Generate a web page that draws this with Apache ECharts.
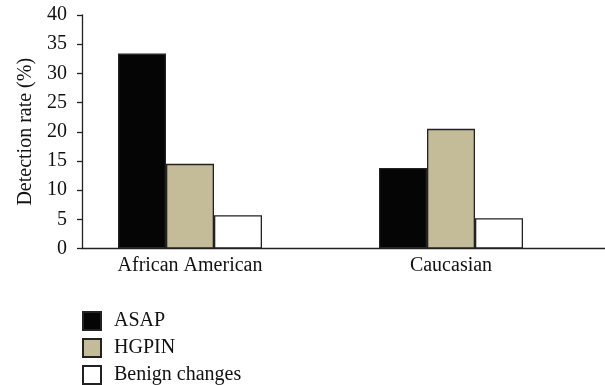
<!DOCTYPE html>
<html>
<head>
<meta charset="utf-8">
<script src="https://cdn.jsdelivr.net/npm/echarts@6/dist/echarts.min.js"></script>
<style>html,body{margin:0;padding:0;background:#fff}#c{width:605px;height:385px}</style>
</head>
<body>
<div id="c"></div>
<script>
var categories = ['African American', 'Caucasian'];
var seriesNames = ['ASAP', 'HGPIN', 'Benign changes'];
var asap = [33.4, 13.8];
var hgpin = [14.5, 20.5];
var benign = [5.7, 5.2];
var yTicks = [0, 5, 10, 15, 20, 25, 30, 35, 40];

var FONT = '"Liberation Serif", "DejaVu Serif", serif';
var colors = ['#050505', '#c4bc98', '#ffffff'];
var values = [asap, hgpin, benign];

var chart = echarts.init(document.getElementById('c'), null, {renderer: 'canvas'});
var gridTop = 15, gridBottom = 385 - 248.5;
var option = {
  animation: false,
  backgroundColor: '#fff',
  textStyle: {fontFamily: FONT},
  grid: [
    {left: 82, right: 0, top: gridTop, bottom: gridBottom},
    {left: 59.5, width: 522, top: gridTop, bottom: gridBottom}
  ],
  legend: {
    orient: 'vertical', left: 82, top: 311, height: 120, padding: 0,
    itemWidth: 18, itemHeight: 18, itemGap: 7,
    icon: 'rect',
    textStyle: {fontFamily: FONT, fontSize: 20, color: '#111', padding: [0, 0, 0, 8]},
    data: seriesNames
  },
  xAxis: [
    {gridIndex: 0, type: 'category', data: categories,
     axisLine: {lineStyle: {color: '#222', width: 1.3}},
     axisTick: {show: false}, axisLabel: {show: false}},
    {gridIndex: 1, type: 'category', data: categories,
     axisLine: {show: false}, axisTick: {show: false},
     axisLabel: {fontFamily: FONT, fontSize: 20, color: '#111', margin: 7}}
  ],
  yAxis: [
    {gridIndex: 0, type: 'value', min: yTicks[0], max: yTicks[yTicks.length - 1], interval: 5,
     name: 'Detection rate (%)', nameLocation: 'middle', nameGap: 45,
     nameTextStyle: {fontFamily: FONT, fontSize: 20, color: '#111'},
     axisLine: {show: true, lineStyle: {color: '#222', width: 1.3}},
     axisTick: {show: true, length: 5, lineStyle: {color: '#222', width: 1.3}},
     axisLabel: {fontFamily: FONT, fontSize: 20, color: '#111', margin: 15},
     splitLine: {show: false}},
    {gridIndex: 1, type: 'value', min: yTicks[0], max: yTicks[yTicks.length - 1], interval: 5,
     show: false, splitLine: {show: false}}
  ],
  series: seriesNames.map(function (n, i) {
    return {
      name: n, type: 'bar', xAxisIndex: 1, yAxisIndex: 1,
      data: values[i], barWidth: 48, barGap: '0%',
      itemStyle: {color: colors[i], borderColor: '#222', borderWidth: 1.3}
    };
  })
};
chart.setOption(option);
</script>
</body>
</html>
